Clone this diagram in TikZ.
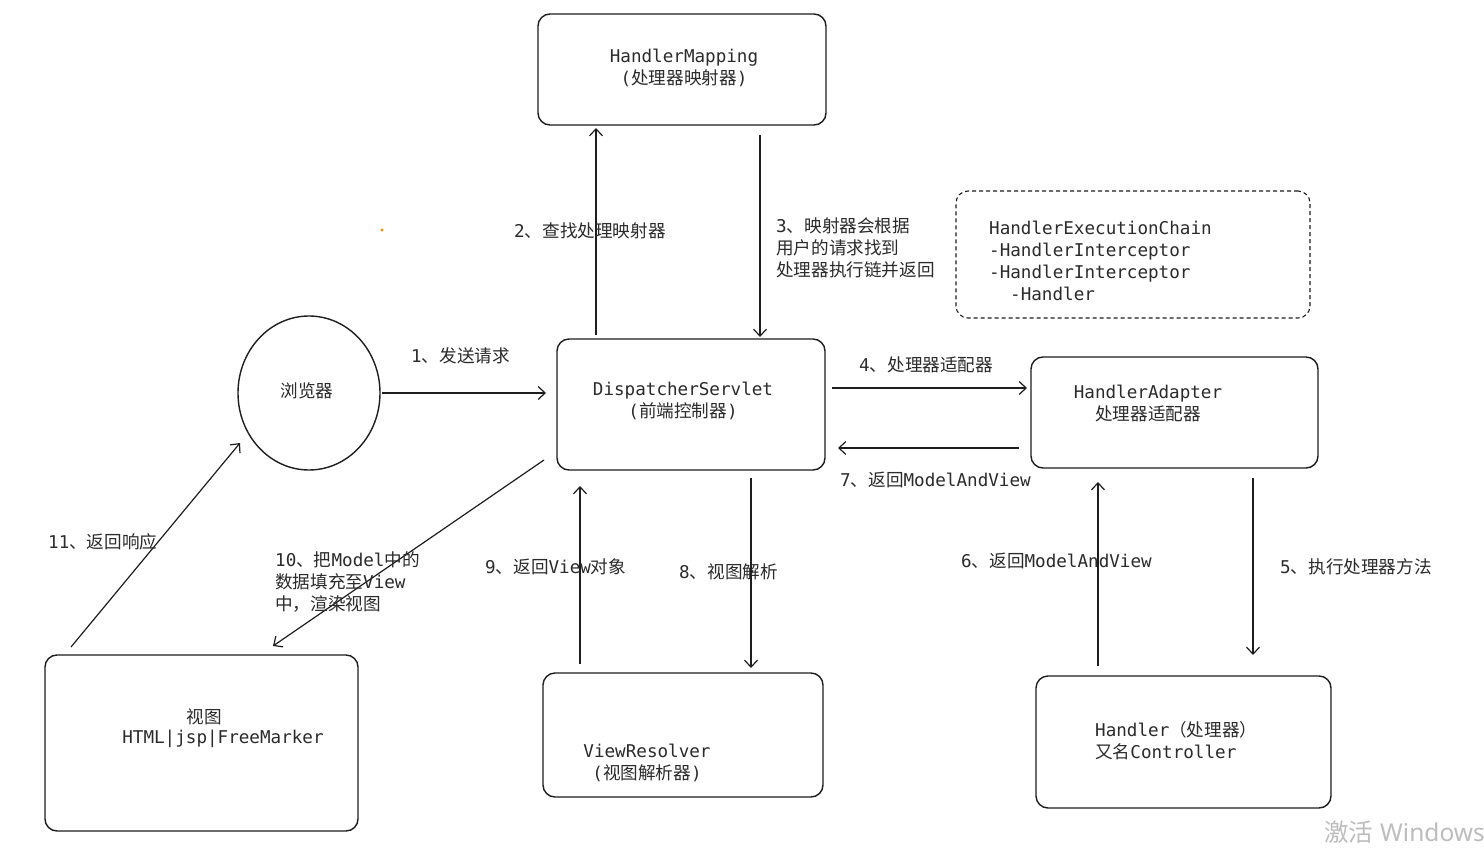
\documentclass[tikz,border=0pt]{standalone}
\usepackage{fontspec}
\setmainfont{DejaVu Sans Mono}
\newfontfamily\cjk{Noto Sans CJK SC}
\newfontfamily\wsans{Noto Sans}
\usetikzlibrary{arrows.meta,shapes.geometric}
\newcommand\C[1]{{\cjk #1}}
\definecolor{lc}{HTML}{1E1E1E}
\definecolor{tc}{HTML}{2B2B2B}
\definecolor{wm}{HTML}{BDBDBD}
\definecolor{dotc}{HTML}{F08C00}
\begin{document}
\begin{tikzpicture}[x=1pt,y=-1pt,
  box/.style={draw=lc, line width=1.4pt, rounded corners=12pt, inner sep=0pt, fill=none},
  dbox/.style={box, dashed, dash pattern=on 4pt off 3pt, line width=1.1pt},
  txt/.style={text=tc, font=\fontsize{17.6}{22}\selectfont, inner sep=0pt},
  arr/.style={draw=lc, line width=1.2pt, -{Straight Barb[length=7pt,width=13pt,line width=1.2pt]}}]
\useasboundingbox[fill=white] (0,0) rectangle (1484,848);

% boxes
\node[box, minimum width=288pt, minimum height=111pt] (hm) at (682,69.5) {};
\node[dbox, minimum width=354pt, minimum height=127pt] (hec) at (1133,254.5) {};
\node[draw=lc, line width=1.4pt, ellipse, minimum width=142pt, minimum height=154pt, inner sep=0pt] (br) at (309,393) {};
\node[box, minimum width=268pt, minimum height=131pt] (ds) at (691,404.5) {};
\node[box, minimum width=287pt, minimum height=111pt] (ha) at (1174.5,412.5) {};
\node[box, minimum width=313pt, minimum height=176pt] (vw) at (201.5,743) {};
\node[box, minimum width=280pt, minimum height=124pt] (vr) at (683,735) {};
\node[box, minimum width=295pt, minimum height=132pt] (hd) at (1183.5,742) {};

% box texts
\node[txt, align=center] (hmt) at (684,68) {HandlerMapping\\(\C{处理器映射器})};
\node[txt, align=left, anchor=west] (hect) at (989,260.5) {HandlerExecutionChain\\-HandlerInterceptor\\-HandlerInterceptor\\\hspace*{21pt}-Handler};
\node[txt] (brt) at (307,391) {\C{浏览器}};
\node[txt, align=center] (dst) at (683,400.5) {DispatcherServlet\\(\C{前端控制器})};
\node[txt, align=center] (hat) at (1148,403.5) {HandlerAdapter\\\C{处理器适配器}};
\node[txt] (vwt1) at (204,717) {\C{视图}};
\node[txt] (vwt2) at (223,739) {HTML|jsp|FreeMarker};
\node[txt, align=center] (vrt) at (647,763) {ViewResolver\\(\C{视图解析器})};
\node[txt, align=left, anchor=west] (hdt) at (1095,740.5) {Handler\C{（处理器）}\\\C{又名}Controller};

% connector end points
\coordinate (a1s) at (382,393);  \coordinate (a1e) at (546,393);
\coordinate (a2s) at (596,335);  \coordinate (a2e) at (596,128);
\coordinate (a3s) at (760,135);  \coordinate (a3e) at (760,337);
\coordinate (a4s) at (832,388);  \coordinate (a4e) at (1027,388);
\coordinate (a5s) at (1253,478); \coordinate (a5e) at (1253,655);
\coordinate (a6s) at (1098,666); \coordinate (a6e) at (1098,482);
\coordinate (a7s) at (1019,448); \coordinate (a7e) at (838,448);
\coordinate (a8s) at (751,478);  \coordinate (a8e) at (751,668);
\coordinate (a9s) at (580,664);  \coordinate (a9e) at (580,486);
\coordinate (a10s) at (544,460); \coordinate (a10e) at (273,646);
\coordinate (a11s) at (71,647);  \coordinate (a11e) at (240,443);

\draw[arr] (a1s) -- (a1e);
\draw[arr] (a2s) -- (a2e);
\draw[arr] (a3s) -- (a3e);
\draw[arr] (a4s) -- (a4e);
\draw[arr] (a5s) -- (a5e);
\draw[arr] (a6s) -- (a6e);
\draw[arr] (a7s) -- (a7e);
\draw[arr] (a8s) -- (a8e);
\draw[arr] (a9s) -- (a9e);
\draw[arr] (a10s) -- (a10e);
\draw[arr] (a11s) -- (a11e);

% labels
\node[txt, anchor=west] (l1) at (411,356) {1\C{、发送请求}};
\node[txt, anchor=west] (l2) at (514,231) {2\C{、查找处理映射器}};
\node[txt, anchor=west, align=left] (l3) at (776,248) {3\C{、映射器会根据}\\\C{用户的请求找到}\\\C{处理器执行链并返回}};
\node[txt, anchor=west] (l4) at (859,365) {4\C{、处理器适配器}};
\node[txt, anchor=west] (l7) at (840,480) {7\C{、返回}ModelAndView};
\node[txt, anchor=west] (l5) at (1280,567) {5\C{、执行处理器方法}};
\node[txt, anchor=west] (l6) at (961,561) {6\C{、返回}ModelAndView};
\node[txt, anchor=west] (l8) at (679,572) {8\C{、视图解析}};
\node[txt, anchor=west] (l9) at (485,567) {9\C{、返回}View\C{对象}};
\node[txt, anchor=west, align=left] (l10) at (275,582) {10\C{、把}Model\C{中的}\\\C{数据填充至}View\\\C{中，渲染视图}};
\node[txt, anchor=west] (l11) at (48,542) {11\C{、返回响应}};

% small orange dot
\fill[dotc] (382,230) circle (1.6pt);

% watermark
\node[anchor=west, inner sep=0pt, text=wm, font=\fontsize{24.5}{27}\selectfont] (wmk) at (1324,832) {\C{激活}\hspace{7pt}{\wsans Windows}};
\end{tikzpicture}
\end{document}
